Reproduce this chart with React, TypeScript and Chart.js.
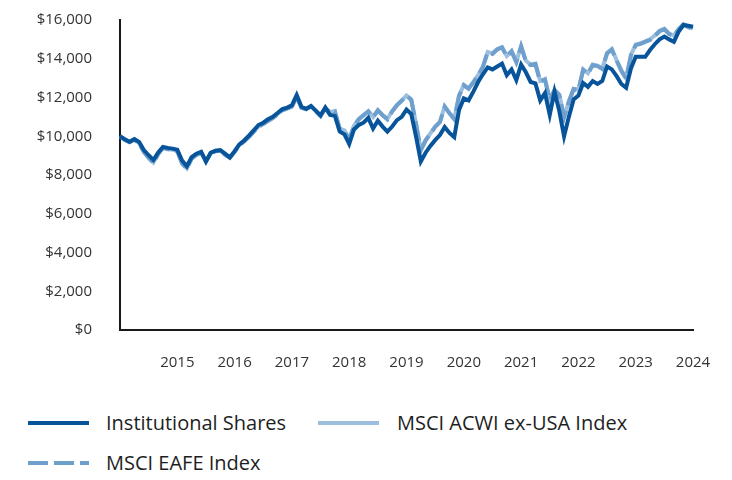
import React, { useEffect, useRef } from "react";
import { Chart, registerables } from "chart.js";

Chart.register(...registerables);

const yearTicks = ["2015", "2016", "2017", "2018", "2019", "2020", "2021", "2022", "2023", "2024"];
const monthNames = ["Jan", "Feb", "Mar", "Apr", "May", "Jun", "Jul", "Aug", "Sep", "Oct", "Nov", "Dec"];
const categories: string[] = [];
for (let y = 2014; y <= 2024; y++) {
  for (let m = 0; m < 12; m++) {
    if (y === 2024 && m > 0) break;
    categories.push(monthNames[m] + " " + y);
  }
}

const seriesNames = ["Institutional Shares", "MSCI ACWI ex-USA Index", "MSCI EAFE Index"];

const institutional = [
  10000, 9850, 9720, 9850, 9700, 9290, 9020, 8770, 9170, 9450, 9400, 9360,
  9300, 8750, 8450, 8920, 9100, 9200, 8700, 9150, 9250, 9280, 9100, 8910,
  9230, 9580, 9780, 10030, 10300, 10580, 10700, 10880, 11000, 11200, 11400, 11480,
  11600, 12130, 11520, 11420, 11560, 11320, 11080, 11480, 11100, 11050, 10250, 10100,
  9600, 10350, 10580, 10700, 10950, 10400, 10800, 10500, 10240, 10500, 10830, 11000,
  11380, 11150, 9980, 8700, 9150, 9500, 9800, 10060, 10480, 10170, 9950, 11350,
  11950, 11850, 12300, 12800, 13200, 13550, 13450, 13600, 13750, 13150, 13450, 12900,
  13700, 13300, 12800, 12730, 11850, 12230, 11100, 12300, 11300, 10000, 11000, 11900,
  12100, 12750, 12550, 12850, 12700, 12850, 13600, 13450, 13100, 12700, 12500, 13500,
  14100, 14100, 14100, 14450, 14750, 15000, 15150, 15000, 14880, 15400, 15740, 15700,
  15650,
];

const acwiExUsa = [
  10000, 9820, 9700, 9830, 9650, 9200, 8900, 8650, 9100, 9420, 9350, 9300,
  9250, 8600, 8350, 8850, 9050, 9150, 8700, 9150, 9250, 9250, 9050, 8900,
  9200, 9550, 9750, 9980, 10250, 10500, 10650, 10800, 10950, 11150, 11350, 11450,
  11550, 12050, 11480, 11400, 11550, 11300, 11050, 11450, 11250, 11300, 10400, 10300,
  9850, 10550, 10900, 11100, 11300, 11000, 11350, 11100, 10900, 11300, 11620, 11850,
  12100, 11900, 10650, 9300, 9800, 10150, 10500, 10750, 11550, 11200, 10900, 12100,
  12650, 12470, 12800, 13150, 13600, 14350, 14280, 14500, 14600, 14150, 14400, 13850,
  14650, 13900, 13700, 13750, 12850, 12950, 11900, 12400, 12150, 11000, 11800, 12450,
  12400, 13450, 13250, 13700, 13650, 13500, 14300, 14500, 13930, 13400, 13000, 14200,
  14730, 14800, 14900, 15000, 15200, 15450, 15550, 15300, 15200, 15550, 15780, 15650,
  15550,
];

const eafe = [
  10000, 9810, 9690, 9820, 9620, 9180, 8880, 8620, 9080, 9400, 9330, 9280,
  9220, 8580, 8330, 8840, 9040, 9140, 8690, 9140, 9230, 9240, 9040, 8880,
  9180, 9530, 9730, 9960, 10230, 10480, 10630, 10780, 10930, 11130, 11330, 11430,
  11530, 12030, 11470, 11390, 11540, 11290, 11040, 11440, 11240, 11280, 10380, 10280,
  9820, 10520, 10870, 11080, 11280, 10980, 11330, 11080, 10870, 11280, 11600, 11830,
  12080, 11870, 10620, 9280, 9780, 10130, 10480, 10730, 11520, 11180, 10880, 12080,
  12630, 12450, 12780, 13130, 13580, 14330, 14250, 14480, 14580, 14120, 14380, 13820,
  14630, 13870, 13670, 13720, 12820, 12920, 11870, 12380, 12120, 10980, 11780, 12430,
  12380, 13420, 13220, 13680, 13620, 13470, 14270, 14470, 13900, 13370, 12970, 14170,
  14700, 14770, 14870, 14970, 15170, 15420, 15520, 15270, 15170, 15520, 15760, 15630,
  15530,
];

const colors = ["#07549b", "#9cbfdf", "#6f9fcc"];

const FONT = "'Open Sans', 'Noto Sans', sans-serif";

function LegendItem(props: { x: number; y: number; textX: number; color: string; dash?: string; label: string }) {
  const { x, y, textX, color, dash, label } = props;
  return (
    <>
      <svg
        width={61}
        height={6}
        style={{ position: "absolute", left: x, top: y - 3 }}
      >
        <line x1={0} y1={3} x2={61} y2={3} stroke={color} strokeWidth={4} strokeDasharray={dash} />
      </svg>
      <div
        style={{
          position: "absolute",
          left: textX,
          top: y - 14,
          height: 28,
          lineHeight: "28px",
          fontSize: 20,
          fontFamily: FONT,
          color: "#1e1e1e",
          whiteSpace: "nowrap",
        }}
      >
        {label}
      </div>
    </>
  );
}

export default function App() {
  const canvasRef = useRef<HTMLCanvasElement | null>(null);

  useEffect(() => {
    if (!canvasRef.current) return;
    const chart = new Chart(canvasRef.current, {
      type: "line",
      data: {
        labels: categories,
        datasets: [
          {
            label: seriesNames[0],
            data: institutional,
            borderColor: colors[0],
            backgroundColor: colors[0],
            borderWidth: 4,
            pointRadius: 0,
            tension: 0,
          },
          {
            label: seriesNames[2],
            data: eafe,
            borderColor: colors[2],
            backgroundColor: colors[2],
            borderWidth: 4,
            borderDash: [20, 6],
            pointRadius: 0,
            tension: 0,
          },
          {
            label: seriesNames[1],
            data: acwiExUsa,
            borderColor: colors[1],
            backgroundColor: colors[1],
            borderWidth: 4,
            pointRadius: 0,
            tension: 0,
          },
        ],
      },
      options: {
        animation: false,
        responsive: true,
        maintainAspectRatio: false,
        layout: { padding: { left: 0, right: 31, top: 12, bottom: 0 } },
        plugins: {
          legend: { display: false },
          tooltip: { enabled: false },
        },
        scales: {
          x: {
            type: "category",
            grid: { display: false, drawTicks: false },
            border: { display: true, color: "#1a1a1a", width: 2 },
            ticks: {
              autoSkip: false,
              maxRotation: 0,
              minRotation: 0,
              padding: 24,
              color: "#333",
              font: { family: FONT, size: 15 },
              callback: (_v: any, idx: number) =>
                idx > 0 && idx % 12 === 0 ? yearTicks[idx / 12 - 1] : "",
            },
            afterFit: (s: any) => {
              s.height = 68;
              s.paddingLeft = 0;
              s.paddingRight = 0;
            },
          },
          y: {
            min: 0,
            max: 16000,
            grid: { display: false, drawTicks: false },
            border: { display: true, color: "#1a1a1a", width: 2 },
            ticks: {
              stepSize: 2000,
              padding: 28,
              color: "#333",
              font: { family: FONT, size: 15 },
              callback: (v: any) => "$" + Number(v).toLocaleString("en-US"),
            },
            afterFit: (s: any) => {
              s.width = 112;
              s.paddingTop = 0;
              s.paddingBottom = 0;
            },
          },
        },
      },
    });
    return () => chart.destroy();
  }, []);

  return (
    <div style={{ position: "relative", width: 716, height: 464 }}>
      <div style={{ position: "absolute", left: 0, top: 0, width: 716, height: 390 }}>
        <canvas ref={canvasRef} />
      </div>
      <LegendItem x={19.5} y={414.5} textX={98} color={colors[0]} label={seriesNames[0]} />
      <LegendItem x={310} y={414.5} textX={389} color={colors[1]} label={seriesNames[1]} />
      <LegendItem x={19.5} y={454.5} textX={98} color={colors[2]} dash="20 6" label={seriesNames[2]} />
    </div>
  );
}
